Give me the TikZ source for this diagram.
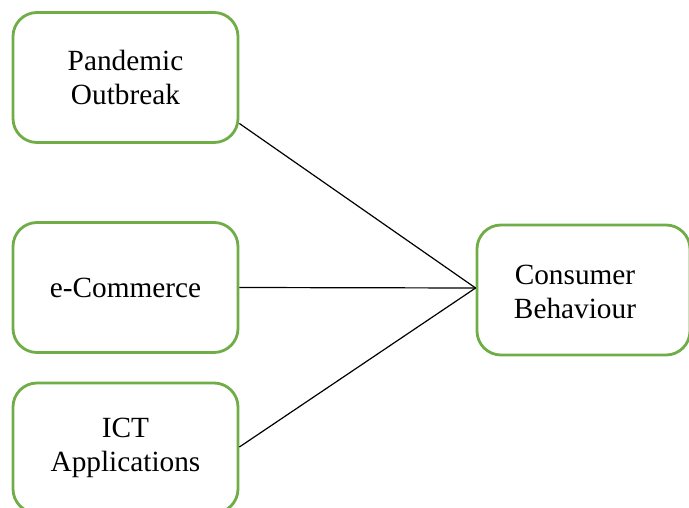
\documentclass[tikz,border=0pt]{standalone}
\usepackage{fontspec}
\setmainfont{Liberation Serif}
\definecolor{boxgreen}{HTML}{70AD47}
\begin{document}
\begin{tikzpicture}[x=1pt,y=-1pt,
  gbox/.style={draw=boxgreen,line width=2.8pt,rounded corners=24pt,fill=white,
    minimum width=225pt,minimum height=130pt,inner sep=0pt,align=center,
    font=\fontsize{29.3}{34}\selectfont},
  link/.style={draw=black,line width=1.2pt}]
\useasboundingbox (0,0) rectangle (689,508);
\node[gbox] (pan) at (125.5,77.5) {Pandemic\\Outbreak};
\node[gbox] (eco) at (125.5,287.5) {e-Commerce};
\node[gbox] (ict) at (125.5,448) {ICT\\Applications};
\node[gbox,minimum width=213pt] (cb) at (583.5,290) {};
\node[font=\fontsize{29.3}{34}\selectfont,align=center] (cbt) at (575,292) {Consumer\\Behaviour};
\coordinate (p1) at ([yshift=-46pt]pan.east);
\coordinate (p3) at ([yshift=1pt]ict.east);
\coordinate (cin) at ([yshift=2pt]cb.west);
\draw[link] (p1) -- (cin);
\draw[link] (eco.east) -- (cin);
\draw[link] (p3) -- (cin);
\end{tikzpicture}
\end{document}
